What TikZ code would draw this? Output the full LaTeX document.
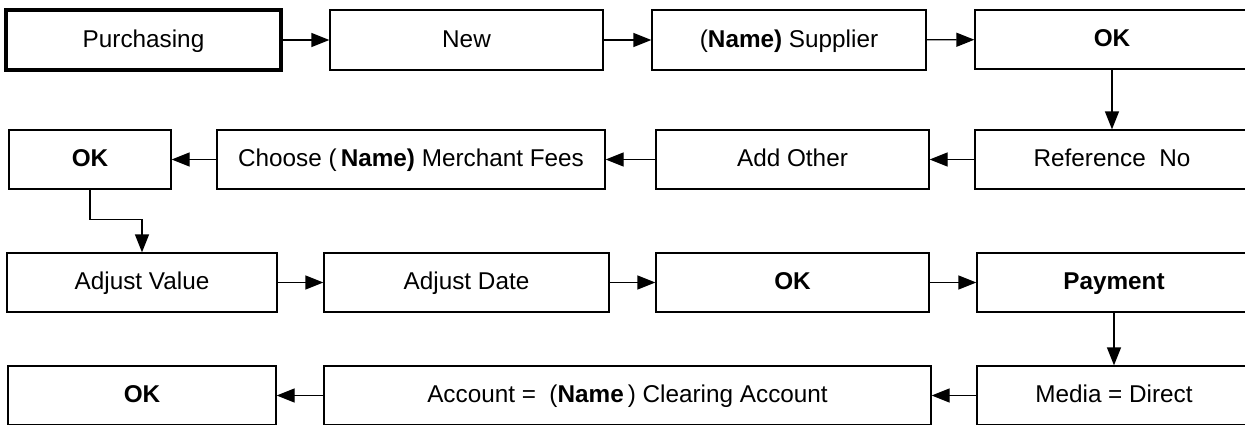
\documentclass[tikz,border=0pt]{standalone}
\usepackage{fontspec}
\setmainfont{Liberation Sans}
\usetikzlibrary{arrows.meta}
\begin{document}
\begin{tikzpicture}[x=1bp,y=-1bp,
  box/.style={draw, line width=1.3bp, inner sep=0pt, minimum width=#1, text height=17.5bp, text depth=3bp, font=\fontsize{24.3bp}{28bp}\selectfont},
  box/.default=274bp,
  conn/.style={draw, line width=1.3bp, -{Triangle[length=18bp,width=14bp]}}]
\useasboundingbox (0,0) rectangle (1245,424);
\clip (0,0) rectangle (1245,424);
% row 1
\node[box=275bp, minimum height=60bp, line width=3.5bp] (purch) at (143.5,40) {Purchasing};
\node[box=273bp, minimum height=60bp] (new) at (466.5,40) {New};
\node[box=274bp, minimum height=60bp] (supp) at (789,40) {(\textbf{Name)} Supplier};
\node[box=274bp, minimum height=59bp] (ok1) at (1112,39.5) {\textbf{OK}};
% row 2
\node[box=162bp, minimum height=59bp] (ok2) at (90,159.5) {\textbf{OK}};
\node[box=388bp, minimum height=59bp] (choose) at (411,159.5) {Choose (\,\textbf{Name)} Merchant Fees};
\node[box=273bp, minimum height=59bp] (add) at (792.5,159.5) {Add Other};
\node[box=274bp, minimum height=59bp] (ref) at (1112,159.5) {Reference\ \ No};
% row 3
\node[box=270bp, minimum height=59bp] (adjv) at (142,282.5) {Adjust Value};
\node[box=285bp, minimum height=59bp] (adjd) at (466.5,282.5) {Adjust Date};
\node[box=273bp, minimum height=59bp] (ok3) at (792.5,282.5) {\textbf{OK}};
\node[box=274bp, minimum height=59bp] (pay) at (1114,282.5) {\textbf{Payment}};
% row 4
\node[box=268bp, minimum height=59bp] (ok4) at (142,395.5) {\textbf{OK}};
\node[box=607bp, minimum height=59bp] (acct) at (627.5,395.5) {Account =\ \ (\textbf{Name}\,) Clearing Account};
\node[box=274bp, minimum height=59bp] (media) at (1114,395.5) {Media = Direct};
% connectors
\draw[conn] (purch) -- (new);
\draw[conn] (new) -- (supp);
\draw[conn] (supp) -- (ok1);
\draw[conn] (ok1) -- (ref);
\draw[conn] (ref) -- (add);
\draw[conn] (add) -- (choose);
\draw[conn] (choose) -- (ok2);
\draw[conn] (ok2.south) -- ++(0,30) -| (adjv.north);
\draw[conn] (adjv) -- (adjd);
\draw[conn] (adjd) -- (ok3);
\draw[conn] (ok3) -- (pay);
\draw[conn] (pay) -- (media);
\draw[conn] (media) -- (acct);
\draw[conn] (acct) -- (ok4);
\end{tikzpicture}
\end{document}
